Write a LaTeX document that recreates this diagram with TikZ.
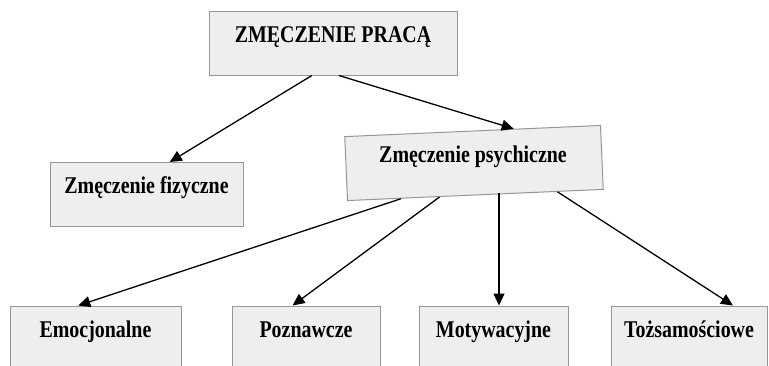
\documentclass[tikz,border=0pt]{standalone}
\usepackage{fontspec}
\setmainfont[FakeStretch=0.83]{Liberation Serif}
\usetikzlibrary{arrows.meta,calc}
\definecolor{boxfill}{RGB}{238,238,238}
\definecolor{boxline}{RGB}{150,150,150}
\tikzset{
    box/.style={draw=boxline,fill=boxfill,line width=1pt,inner sep=0pt,
        text height=31pt,text depth=33pt,font=\fontsize{24}{28}\selectfont\bfseries},
    boxtext/.style={anchor=base,inner sep=0pt,font=\fontsize{24}{28}\selectfont\bfseries}
}
\begin{document}
\begin{tikzpicture}[x=1pt,y=-1pt,>={Triangle[length=12pt,width=11pt]},line width=1.3pt]
            \useasboundingbox (0,0) rectangle (769,365);
            \node[anchor=base west,inner sep=0pt,font=\fontsize{40}{44}\selectfont\bfseries] (title) at (-43,-8.2) {Rodzaje zmęczenia pracą};

            \begin{scope}[every node/.style={box}]
                \node[minimum width=248pt] (praca) at (333,43) {ZMĘCZENIE PRACĄ};
                \node[minimum width=193pt] (fiz) at (146.5,194.5) {Zmęczenie fizyczne};
                \node[minimum width=256pt,rotate=2.5] (psy) at (474,163) {};
                \node[minimum width=171pt] (emo) at (95.5,338) {Emocjonalne};
                \node[minimum width=148pt] (pozn) at (306,338) {Poznawcze};
                \node[minimum width=149pt] (mot) at (493.5,338) {Motywacyjne};
                \node[minimum width=156pt] (toz) at (689,338) {Tożsamościowe};
            \end{scope}
            \node[boxtext] (psytext) at (473,162) {Zmęczenie psychiczne};

            \coordinate (praca1) at ($(praca.south west)!0.415!(praca.south east)$);
            \coordinate (praca2) at ($(praca.south west)!0.524!(praca.south east)$);
            \coordinate (fizin) at ($(fiz.north west)!0.62!(fiz.north east)$);
            \coordinate (psyin) at ($(psy.north west)!0.66!(psy.north east)$);
            \coordinate (psy1) at ($(psy.south west)!0.21!(psy.south east)$);
            \coordinate (psy2) at ($(psy.south west)!0.36!(psy.south east)$);
            \coordinate (psy3) at (499,193);
            \coordinate (psy4) at ($(psy.south west)!0.82!(psy.south east)$);
            \coordinate (emoin) at ($(emo.north west)!0.40!(emo.north east)$);
            \coordinate (poznin) at ($(pozn.north west)!0.41!(pozn.north east)$);
            \coordinate (motin) at (psy3 |- mot.north);
            \coordinate (tozin) at ($(toz.north west)!0.78!(toz.north east)$);

            \begin{scope}
                \path [->] (praca1) edge (fizin);
                \path [->] (praca2) edge (psyin);
                \path [->] (psy1) edge (emoin);
                \path [->] (psy2) edge (poznin);
                \path [->] (psy3) edge (motin);
                \path [->] (psy4) edge (tozin);
            \end{scope}
\end{tikzpicture}
\end{document}
